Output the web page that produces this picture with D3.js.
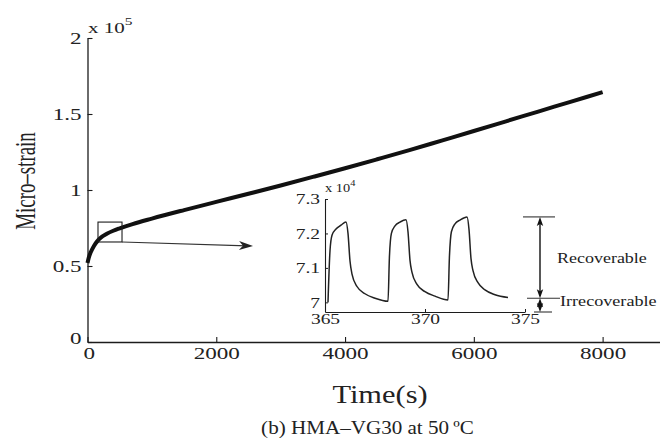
<!DOCTYPE html>
<html>
<head>
<meta charset="utf-8">
<script src="https://cdn.jsdelivr.net/npm/d3@7"></script>
<style>
  html, body { margin: 0; padding: 0; background: #fff; }
  svg { display: block; }
  text { font-family: "Liberation Serif", "Times New Roman", serif; fill: #222; }
</style>
</head>
<body>
<svg id="chart" width="660" height="443"></svg>
<script>
// Creep strain history (micro-strain, x 10^5) over the full test
const timeS     = [0, 20, 50, 100, 150, 200, 300, 400, 500, 700, 1000, 1500, 2000, 2500, 3000, 3500, 4000, 4500, 5000, 5500, 6000, 6500, 7000, 7500, 8000];
const strainE5  = [0.52, 0.555, 0.59, 0.632, 0.662, 0.684, 0.712, 0.732, 0.748, 0.776, 0.812, 0.868, 0.922, 0.975, 1.03, 1.086, 1.143, 1.202, 1.262, 1.325, 1.388, 1.452, 1.516, 1.58, 1.644];

// Three load/unload cycles between 365 s and 375 s (micro-strain, x 10^4)
const cycleTime = [365.15, 365.25, 365.35, 365.55, 365.8, 366.05, 366.15, 366.25, 366.35, 366.6, 367.0, 367.5, 368.15,
                   368.22, 368.32, 368.5, 368.75, 369.05, 369.15, 369.25, 369.35, 369.6, 370.0, 370.5, 371.15,
                   371.22, 371.32, 371.5, 371.75, 372.1, 372.2, 372.3, 372.4, 372.65, 373.0, 373.5, 374.15];
const cycleStrainE4 = [7.000, 7.150, 7.195, 7.213, 7.224, 7.233, 7.200, 7.120, 7.082, 7.046, 7.025, 7.012, 7.003,
                       7.130, 7.200, 7.222, 7.233, 7.240, 7.205, 7.122, 7.087, 7.052, 7.031, 7.018, 7.007,
                       7.130, 7.205, 7.228, 7.239, 7.248, 7.212, 7.127, 7.092, 7.057, 7.036, 7.022, 7.014];

const mainXTicks  = [0, 2000, 4000, 6000, 8000];
const mainYTicks  = [0, 0.5, 1, 1.5, 2];
const insetXTicks = [365, 370, 375];
const insetYTicks = [7, 7.1, 7.2, 7.3];

// Levels marked by the recoverable / irrecoverable brackets (x 10^4)
const peakLevel = 7.248, residualLevel = 7.012, baseLevel = 6.972;
// Window on the main curve that the inset enlarges
const windowTime = [163, 536], windowStrain = [0.658, 0.789];

const svg = d3.select("#chart");
const ink = "#1c1c1c";

// ---------- main axes ----------
const x = d3.scaleLinear().domain([0, 9000]).range([87.5, 667]);
const y = d3.scaleLinear().domain([0, 2]).range([342, 38]);

function stretchTicks(g, sx) {
  g.selectAll(".tick text").each(function () {
    const t = d3.select(this);
    const tx = +t.attr("x") || 0;
    t.attr("x", tx / sx).attr("transform", `scale(${sx},1)`);
  });
}

const gx = svg.append("g").attr("transform", `translate(0,${y(0)})`)
  .call(d3.axisBottom(x).tickValues(mainXTicks).tickFormat(d3.format("d"))
        .tickSizeInner(-5).tickSizeOuter(0).tickPadding(5));
const gy = svg.append("g").attr("transform", `translate(${x(0)},0)`)
  .call(d3.axisLeft(y).tickValues(mainYTicks).tickFormat(d => String(d))
        .tickSizeInner(-5).tickSizeOuter(0).tickPadding(6));
[gx, gy].forEach(g => {
  g.select(".domain").attr("stroke", ink).attr("stroke-width", 1.3);
  g.selectAll(".tick line").attr("stroke", ink).attr("stroke-width", 1.1);
  g.selectAll(".tick text").attr("font-size", 17.5).attr("fill", "#222")
    .attr("font-family", "Liberation Serif, serif");
  stretchTicks(g, 1.32);
});
// the y "0" sits slightly above the axis, the x "0" slightly right
gy.selectAll(".tick text").filter(d => d === 0).attr("dy", "0.1em");
gx.selectAll(".tick text").filter(d => d === 0).attr("x", 1);

// exponent label for the main axis
const expMain = svg.append("g").attr("transform", `translate(88,33) scale(1.4,1)`)
  .append("text").attr("font-size", 15);
expMain.append("tspan").text("x 10");
expMain.append("tspan").attr("font-size", 11).attr("dy", -8).text("5");

// ---------- main curve ----------
const mainLine = d3.line().x((d, i) => x(timeS[i])).y(d => y(d)).curve(d3.curveMonotoneX);
svg.append("path").datum(strainE5).attr("d", mainLine)
  .attr("fill", "none").attr("stroke", "#111").attr("stroke-width", 4)
  .attr("stroke-linecap", "butt").attr("stroke-linejoin", "round");

// window box and pointer arrow
svg.append("rect")
  .attr("x", x(windowTime[0])).attr("y", y(windowStrain[1]))
  .attr("width", x(windowTime[1]) - x(windowTime[0]))
  .attr("height", y(windowStrain[0]) - y(windowStrain[1]))
  .attr("fill", "none").attr("stroke", ink).attr("stroke-width", 1.1);

const ax0 = x(windowTime[1]), ay0 = y(windowStrain[0]);
const ax1 = 253, ay1 = 246;
svg.append("line").attr("x1", ax0).attr("y1", ay0).attr("x2", ax1 - 6).attr("y2", ay1 - 0.2)
  .attr("stroke", "#333").attr("stroke-width", 1.2);
{
  const ang = Math.atan2(ay1 - ay0, ax1 - ax0) * 180 / Math.PI;
  svg.append("path").attr("d", "M0,0 L-14,-4.5 L-10,0 L-14,4.5 Z")
    .attr("transform", `translate(${ax1},${ay1}) rotate(${ang})`).attr("fill", "#222");
}

// ---------- inset ----------
const ix = d3.scaleLinear().domain([365, 375]).range([325, 525]);
const iy = d3.scaleLinear().domain([6.972, 7.3]).range([312, 199]);

const igx = svg.append("g").attr("transform", `translate(0,${iy.range()[0]})`)
  .call(d3.axisBottom(ix).tickValues(insetXTicks).tickFormat(d3.format("d"))
        .tickSizeInner(-3).tickSizeOuter(0).tickPadding(1));
const igy = svg.append("g").attr("transform", `translate(${ix(365)},0)`)
  .call(d3.axisLeft(iy).tickValues(insetYTicks).tickFormat(d => String(d))
        .tickSizeInner(-3).tickSizeOuter(0).tickPadding(5));
[igx, igy].forEach(g => {
  g.select(".domain").attr("stroke", ink).attr("stroke-width", 1.1);
  g.selectAll(".tick line").attr("stroke", ink).attr("stroke-width", 1);
  g.selectAll(".tick text").attr("font-size", 15).attr("fill", "#222")
    .attr("font-family", "Liberation Serif, serif");
  stretchTicks(g, 1.3);
});

const expInset = svg.append("g").attr("transform", `translate(${ix(365)},192) scale(1.15,1)`)
  .append("text").attr("font-size", 12.5);
expInset.append("tspan").text("x 10");
expInset.append("tspan").attr("font-size", 9).attr("dy", -6).text("4");

const cycleLine = d3.line().x((d, i) => ix(cycleTime[i])).y(d => iy(d)).curve(d3.curveMonotoneX);
svg.append("path").datum(cycleStrainE4).attr("d", cycleLine)
  .attr("fill", "none").attr("stroke", "#222").attr("stroke-width", 1.5)
  .attr("stroke-linejoin", "round");

// ---------- recoverable / irrecoverable brackets ----------
const bx = ix(375.75);
const guide = (t0, t1, lv) => svg.append("line")
  .attr("x1", ix(t0)).attr("x2", ix(t1)).attr("y1", iy(lv)).attr("y2", iy(lv))
  .attr("stroke", "#333").attr("stroke-width", 1.1);
guide(374.9, 376.5, peakLevel);
guide(375.1, 376.75, residualLevel);
guide(375.45, 376.35, baseLevel);

function dimArrow(yTop, yBot) {
  svg.append("line").attr("x1", bx).attr("x2", bx).attr("y1", yTop + 3).attr("y2", yBot - 3)
    .attr("stroke", "#111").attr("stroke-width", 1.4);
  const head = "M0,0 L-3.2,9 L0,7 L3.2,9 Z";
  svg.append("path").attr("d", head).attr("transform", `translate(${bx},${yTop})`).attr("fill", "#111");
  svg.append("path").attr("d", head).attr("transform", `translate(${bx},${yBot}) rotate(180)`).attr("fill", "#111");
}
dimArrow(iy(peakLevel), iy(residualLevel));
dimArrow(iy(residualLevel), iy(baseLevel));

function label(str, px, py, size, sx, anchor, rot) {
  return svg.append("g")
    .attr("transform", `translate(${px},${py})${rot ? ` rotate(${rot})` : ""} scale(${sx},1)`)
    .append("text").attr("font-size", size).attr("text-anchor", anchor || "start").text(str);
}
label("Recoverable", 557, 263, 15, 1.2);
label("Irrecoverable", 560, 306, 15, 1.21);

// ---------- axis titles and caption ----------
label("Time(s)", 380, 403, 26, 1.17, "middle");
label("Micro\u2013strain", 35, 181, 30, 0.63, "middle", -90);
label("(b) HMA\u2013VG30 at 50\u2009\u00baC", 367.5, 434, 19, 1.11, "middle");
</script>
</body>
</html>
